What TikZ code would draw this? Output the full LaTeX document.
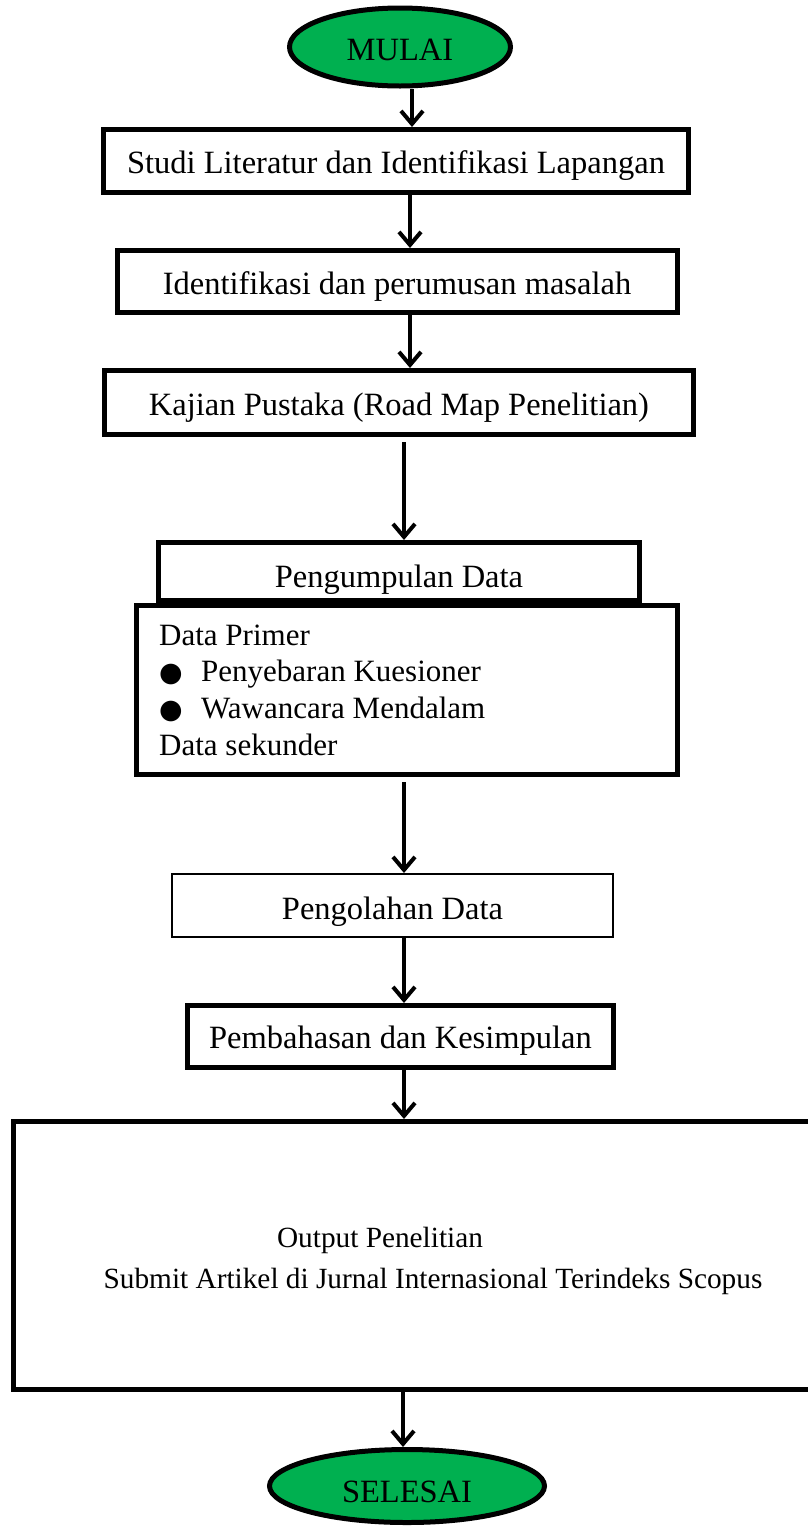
\documentclass[tikz,border=0pt]{standalone}
\usepackage{fontspec}
\setmainfont{Liberation Serif}
\newfontfamily\symfont{DejaVu Sans}
\usetikzlibrary{arrows.meta,shapes.geometric}
\definecolor{startgreen}{HTML}{00B050}
\newcommand{\bulglyph}{{\symfont\fontsize{27}{27}\selectfont ●}}
\begin{document}
\begin{tikzpicture}[x=1pt,y=-1pt,
  box/.style={draw, line width=5pt, rectangle, inner sep=0pt,
    font=\fontsize{32.5}{38}\selectfont, text height=25pt, text depth=0pt},
  thinbox/.style={box, line width=2pt},
  term/.style={draw, line width=5pt, ellipse, fill=startgreen, inner sep=0pt,
    font=\fontsize{32.5}{38}\selectfont},
  arr/.style={line width=4pt, -{Straight Barb[length=13pt,width=22pt,line width=4pt]}},
  txt/.style={inner sep=0pt, anchor=base, font=\fontsize{29.3}{34}\selectfont}
]
\useasboundingbox (0,0) rectangle (807,1527);

\node[term, minimum width=221pt, minimum height=78pt, text height=26pt, text depth=0pt] (start) at (400,47) {MULAI};

\node[box, minimum width=585pt, minimum height=63pt] (b1) at (396,161) {Studi Literatur dan Identifikasi Lapangan};
\node[box, minimum width=560pt, minimum height=62pt] (b2) at (397,281.5) {Identifikasi dan perumusan masalah};
\node[box, minimum width=589pt, minimum height=64pt] (b3) at (399,402.5) {Kajian Pustaka (Road Map Penelitian)};
\node[box, minimum width=481pt, minimum height=58pt, text height=31pt] (b4) at (399,571.5) {Pengumpulan Data};
\node[box, minimum width=541pt, minimum height=169pt] (b5) at (407,690) {};
\node[inner sep=0pt, anchor=base west, font=\fontsize{31}{36.8}\selectfont] (list) at (159,645)
  {\begin{tabular}[t]{@{}l@{}}
   Data Primer\\
   \makebox[42pt][l]{\bulglyph}Penyebaran Kuesioner\\
   \makebox[42pt][l]{\bulglyph}Wawancara Mendalam\\
   Data sekunder
   \end{tabular}};
\node[thinbox, minimum width=441pt, minimum height=63pt, text height=27pt] (b6) at (392.5,905.5) {Pengolahan Data};
\node[box, minimum width=426pt, minimum height=62pt, text height=23pt] (b7) at (400.5,1036.5) {Pembahasan dan Kesimpulan};
\node[box, minimum width=804pt, minimum height=268pt] (b8) at (415.5,1255.5) {};
\node[txt] (out1) at (380,1247) {Output Penelitian};
\node[txt] (out2) at (433,1288) {Submit Artikel di Jurnal Internasional Terindeks Scopus};

\node[term, minimum width=275pt, minimum height=73pt, text height=32pt, text depth=0pt] (end) at (407,1486) {SELESAI};

\coordinate (xa) at (412,0);
\coordinate (xb) at (410,0);
\coordinate (xc) at (404,0);
\coordinate (xd) at (403,0);

\draw[arr] (start.south -| xa) -- (b1.north -| xa);
\draw[arr] (b1.south -| xb) -- (b2.north -| xb);
\draw[arr] (b2.south -| xb) -- (b3.north -| xb);
\draw[arr, shorten <=5pt] (b3.south -| xc) -- (b4.north -| xc);
\draw[arr, shorten <=5pt] (b5.south -| xc) -- (b6.north -| xc);
\draw[arr] (b6.south -| xc) -- (b7.north -| xc);
\draw[arr] (b7.south -| xc) -- (b8.north -| xc);
\draw[arr] (b8.south -| xd) -- (end.north -| xd);
\end{tikzpicture}
\end{document}
